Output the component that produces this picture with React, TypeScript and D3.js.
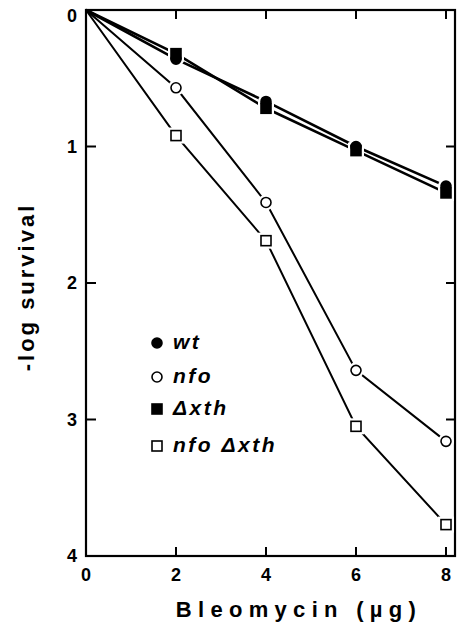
import React from 'react';
import * as d3 from 'd3';

// dose of bleomycin (µg)
const doses = [0, 2, 4, 6, 8];
// -log survival per strain
const wt = [0, 0.36, 0.67, 1.0, 1.29];
const nfo = [0, 0.57, 1.41, 2.64, 3.16];
const xth = [0, 0.32, 0.72, 1.03, 1.34];
const nfoXth = [0, 0.92, 1.69, 3.05, 3.77];

const xTicks = [0, 2, 4, 6, 8];
const yTicks = [0, 1, 2, 3, 4];

const series = [
  { name: 'wt', values: wt, shape: 'circle', filled: true, width: 2.6 },
  { name: 'nfo', values: nfo, shape: 'circle', filled: false, width: 2 },
  { name: '\u0394xth', values: xth, shape: 'square', filled: true, width: 2.6 },
  { name: 'nfo \u0394xth', values: nfoXth, shape: 'square', filled: false, width: 2 },
];

const font = '"Liberation Sans", Arial, sans-serif';

function Marker({ cx, cy, shape, filled, halo }: any) {
  const r = 5;
  if (halo) {
    return shape === 'circle'
      ? <circle cx={cx} cy={cy} r={r + 3} fill="#fff" />
      : <rect x={cx - r - 3} y={cy - r - 3} width={2 * r + 6} height={2 * r + 6} fill="#fff" />;
  }
  const fill = filled ? '#000' : '#fff';
  return shape === 'circle'
    ? <circle cx={cx} cy={cy} r={r} fill={fill} stroke="#000" strokeWidth={1.6} />
    : <rect x={cx - r} y={cy - r} width={2 * r} height={2 * r} fill={fill} stroke="#000" strokeWidth={1.6} />;
}

export default function App() {
  const width = 457;
  const height = 632;
  const x = d3.scaleLinear().domain([0, 8]).range([86, 446]);
  const y = d3.scaleLinear().domain([0, 4]).range([10, 556]);
  const left = x(0);
  const right = x(8.2);
  const top = y(0);
  const bottom = y(4);

  const line = d3.line<number>().x((_, i) => x(doses[i])).y(v => y(v));

  const legendX = 157;
  const legendY = [343, 377, 409, 446];

  return (
    <svg width={width} height={height} style={{ position: 'absolute', left: 0, top: 0 }}>
      <rect width={width} height={height} fill="#fff" />
      {/* frame */}
      <rect x={left} y={top} width={right - left} height={bottom - top} fill="none" stroke="#000" strokeWidth={2.2} />
      {/* ticks */}
      {xTicks.slice(1).map(t => (
        <g key={'xt' + t}>
          <line x1={x(t)} x2={x(t)} y1={bottom} y2={bottom - 9} stroke="#000" strokeWidth={2} />
          <line x1={x(t)} x2={x(t)} y1={top} y2={top + 9} stroke="#000" strokeWidth={2} />
        </g>
      ))}
      {yTicks.slice(1, 4).map(t => (
        <g key={'yt' + t}>
          <line x1={left} x2={left + 10} y1={y(t)} y2={y(t)} stroke="#000" strokeWidth={2} />
          <line x1={right} x2={right - 9} y1={y(t)} y2={y(t)} stroke="#000" strokeWidth={2} />
        </g>
      ))}
      {/* tick labels */}
      {xTicks.map(t => (
        <text key={'xl' + t} x={x(t)} y={581} textAnchor="middle" fontFamily={font} fontWeight="bold" fontSize={18}>
          {t}
        </text>
      ))}
      {yTicks.map(t => (
        <text key={'yl' + t} x={77} y={y(t) + 6 + (t === 0 ? 6 : 0)} textAnchor="end" fontFamily={font} fontWeight="bold" fontSize={18}>
          {t}
        </text>
      ))}
      {/* axis titles */}
      <text x={299} y={617} textAnchor="middle" fontFamily={font} fontWeight="bold" fontSize={22} letterSpacing={6.3}>
        Bleomycin (µg)
      </text>
      <text transform="translate(34,287) rotate(-90)" textAnchor="middle" fontFamily={font} fontWeight="bold" fontSize={22} letterSpacing={3}>
        -log survival
      </text>
      {/* lines */}
      {series.map(s => (
        <path key={'l' + s.name} d={line(s.values) || ''} fill="none" stroke="#000" strokeWidth={s.width} />
      ))}
      {/* marker halos (gap around points) */}
      {series.map(s => s.values.slice(1).map((v, i) => (
        <Marker key={'h' + s.name + i} cx={x(doses[i + 1])} cy={y(v)} shape={s.shape} halo />
      )))}
      {series.map(s => s.values.slice(1).map((v, i) => (
        <Marker key={'m' + s.name + i} cx={x(doses[i + 1])} cy={y(v)} shape={s.shape} filled={s.filled} />
      )))}
      {/* legend */}
      {series.map((s, i) => (
        <g key={'lg' + s.name}>
          <Marker cx={legendX} cy={legendY[i]} shape={s.shape} filled={s.filled} />
          <text x={173} y={legendY[i] + 6} fontFamily={font} fontWeight="bold" fontStyle="italic" fontSize={21} letterSpacing={2.5}>
            {s.name}
          </text>
        </g>
      ))}
    </svg>
  );
}
